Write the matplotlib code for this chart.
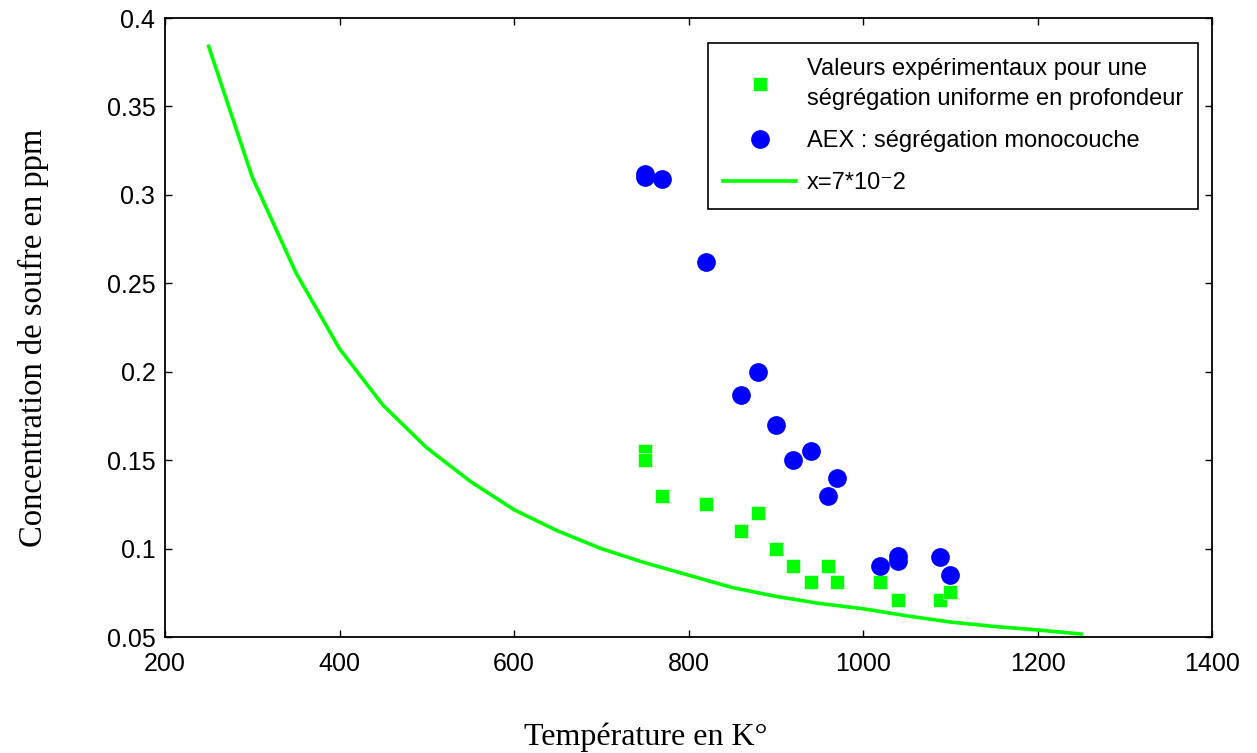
import matplotlib.pyplot as plt

# experimental values, uniform segregation in depth (green squares)
temp_sq = [750, 750, 770, 820, 860, 880, 900, 920, 940, 960, 970, 1020, 1040, 1088, 1100]
conc_sq = [0.155, 0.150, 0.130, 0.125, 0.110, 0.120, 0.100, 0.090, 0.081, 0.090, 0.081,
           0.081, 0.071, 0.071, 0.0755]

# AEX, monolayer segregation (blue circles)
temp_ci = [750, 750, 770, 820, 860, 880, 900, 920, 940, 960, 970, 1020, 1040, 1040, 1088, 1100]
conc_ci = [0.312, 0.310, 0.309, 0.262, 0.187, 0.200, 0.170, 0.150, 0.155, 0.130, 0.140,
           0.090, 0.093, 0.096, 0.095, 0.085]

# model curve x=7*10^-2
temp_fit = [250, 300, 350, 400, 450, 500, 550, 600, 650, 700, 750, 800, 850, 900,
            950, 1000, 1050, 1100, 1150, 1200, 1250]
conc_fit = [0.384, 0.310, 0.256, 0.213, 0.181, 0.157, 0.138, 0.122, 0.110, 0.100, 0.092,
            0.085, 0.078, 0.073, 0.069, 0.066, 0.062, 0.0585, 0.056, 0.054, 0.0517]

plt.rcParams['font.family'] = ['Liberation Sans', 'DejaVu Sans']

fig = plt.figure(figsize=(12.57, 7.53), dpi=100)
ax = fig.add_axes([0.1313, 0.154, 0.8329, 0.822])

green = '#00ff00'
blue = '#0000ff'

ax.plot(temp_sq, conc_sq, 's', color=green, markersize=10.5, markeredgecolor='#e8ffe8',
        markeredgewidth=0.5,
        label='Valeurs expérimentaux pour une\nségrégation uniforme en profondeur')
ax.plot(temp_ci, conc_ci, 'o', color=blue, markersize=13.5, markeredgewidth=0,
        label='AEX : ségrégation monocouche')
ax.plot(temp_fit, conc_fit, '-', color=green, linewidth=2.6, label='x=7*10\u207b2')

ax.set_xlim(200, 1400)
ax.set_ylim(0.05, 0.4)
ax.set_xticks([200, 400, 600, 800, 1000, 1200, 1400])
ax.set_yticks([0.05, 0.1, 0.15, 0.2, 0.25, 0.3, 0.35, 0.4])
ax.set_yticklabels(['0.05', '0.1', '0.15', '0.2', '0.25', '0.3', '0.35', '0.4'])
ax.tick_params(axis='both', which='major', labelsize=18, direction='in',
               top=True, right=True, length=5, width=1)
ax.tick_params(axis='x', pad=11)
ax.tick_params(axis='y', pad=7)
for sp in ax.spines.values():
    sp.set_linewidth(1.3)

ax.set_xlabel('Température en K°', fontsize=23, family='Liberation Serif')
ax.set_ylabel('Concentration de soufre en ppm', fontsize=23.5, family='Liberation Serif')
ax.xaxis.set_label_coords(0.459, -0.138)
ax.yaxis.set_label_coords(-0.111, 0.483)

leg = ax.legend(loc='upper right', bbox_to_anchor=(0.987, 0.960), fontsize=17,
                frameon=True, fancybox=False, edgecolor='black', framealpha=1,
                handlelength=3.1, labelspacing=0.85, borderpad=0.65, handletextpad=0.45,
                borderaxespad=0)
leg.get_frame().set_linewidth(1.2)
for t in leg.get_texts():
    t.set_linespacing(1.45)

fig.savefig('out.png', dpi=100)
